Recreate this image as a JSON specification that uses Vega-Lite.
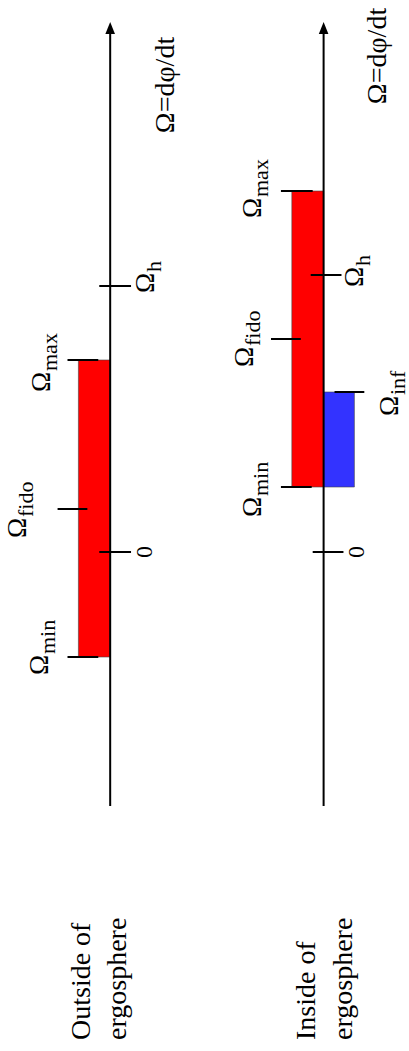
{
  "$schema": "https://vega.github.io/schema/vega-lite/v6.json",
  "width": 409,
  "height": 1051,
  "autosize": {"type": "fit", "contains": "padding"},
  "padding": 0,
  "background": "white",
  "config": {"view": {"stroke": null}, "font": "Liberation Serif"},
  "datasets": {
    "axes": [
      {"panel": "outside", "x": 11.1, "from": -25.4, "to": 52.2, "tip": 52.4},
      {"panel": "inside", "x": 32.6, "from": -25.4, "to": 52.2, "tip": 52.4}
    ],
    "bands": [
      {"panel": "outside", "kind": "allowed", "x0": 7.9, "x1": 11.1, "lo": -10.5, "hi": 19.2},
      {"panel": "inside", "kind": "allowed", "x0": 29.4, "x1": 32.6, "lo": 6.5, "hi": 36.1},
      {"panel": "inside", "kind": "infall", "x0": 32.6, "x1": 35.7, "lo": 6.5, "hi": 16.0}
    ],
    "ticks": [
      {"panel": "outside", "name": "max", "x0": 6.8, "x1": 9.9, "omega": 19.2},
      {"panel": "outside", "name": "h", "x0": 10.0, "x1": 13.2, "omega": 26.6},
      {"panel": "outside", "name": "fido", "x0": 5.8, "x1": 8.8, "omega": 4.3},
      {"panel": "outside", "name": "zero", "x0": 10.0, "x1": 13.2, "omega": 0},
      {"panel": "outside", "name": "min", "x0": 6.8, "x1": 9.9, "omega": -10.5},
      {"panel": "inside", "name": "max", "x0": 28.3, "x1": 31.5, "omega": 36.1},
      {"panel": "inside", "name": "h", "x0": 31.3, "x1": 34.4, "omega": 27.7},
      {"panel": "inside", "name": "fido", "x0": 27.3, "x1": 30.3, "omega": 21.3},
      {"panel": "inside", "name": "inf", "x0": 33.7, "x1": 36.7, "omega": 16.0},
      {"panel": "inside", "name": "min", "x0": 28.3, "x1": 31.4, "omega": 6.5},
      {"panel": "inside", "name": "zero", "x0": 31.5, "x1": 34.6, "omega": 0}
    ],
    "labels": [
      {"panel": "outside", "sym": "Ω", "sub": "max", "x": 5.0, "omega": 16.0},
      {"panel": "outside", "sym": "Ω", "sub": "h", "x": 15.5, "omega": 25.9},
      {"panel": "outside", "sym": "Ω", "sub": "fido", "x": 2.6, "omega": 1.4},
      {"panel": "outside", "sym": "Ω", "sub": "min", "x": 4.8, "omega": -12.3},
      {"panel": "inside", "sym": "Ω", "sub": "max", "x": 26.3, "omega": 33.4},
      {"panel": "inside", "sym": "Ω", "sub": "h", "x": 36.6, "omega": 26.5},
      {"panel": "inside", "sym": "Ω", "sub": "fido", "x": 25.5, "omega": 18.5},
      {"panel": "inside", "sym": "Ω", "sub": "inf", "x": 40.1, "omega": 13.6},
      {"panel": "inside", "sym": "Ω", "sub": "min", "x": 26.3, "omega": 3.5}
    ],
    "formulas": [
      {"panel": "outside", "text": "Ω=dφ/dt", "x": 16.7, "omega": 46.7},
      {"panel": "inside", "text": "Ω=dφ/dt", "x": 38.1, "omega": 49.6}
    ],
    "zeros": [
      {"panel": "outside", "text": "0", "x": 14.6, "omega": 0},
      {"panel": "inside", "text": "0", "x": 36.0, "omega": 0}
    ],
    "captions": [
      {"panel": "outside", "text": "Outside of", "x": 9.1, "omega": -48.8},
      {"panel": "outside", "text": "ergosphere", "x": 12.7, "omega": -48.8},
      {"panel": "inside", "text": "Inside of", "x": 31.7, "omega": -48.8},
      {"panel": "inside", "text": "ergosphere", "x": 35.5, "omega": -48.8}
    ]
  },
  "layer": [
    {
      "data": {"name": "bands"},
      "mark": {"type": "rect", "stroke": "#444444", "strokeWidth": 0.6},
      "encoding": {
        "x": {"field": "x0", "type": "quantitative", "scale": {"domain": [0, 40.9], "nice": false, "zero": false}, "axis": null},
        "x2": {"field": "x1"},
        "y": {"field": "lo", "type": "quantitative", "scale": {"domain": [-49.9, 55.2], "nice": false, "zero": false}, "axis": null},
        "y2": {"field": "hi"},
        "color": {"field": "kind", "type": "nominal", "scale": {"domain": ["allowed", "infall"], "range": ["#ff0000", "#3333ff"]}, "legend": null}
      }
    },
    {
      "data": {"name": "axes"},
      "mark": {"type": "rule", "color": "black", "strokeWidth": 2},
      "encoding": {
        "x": {"field": "x", "type": "quantitative"},
        "y": {"field": "from", "type": "quantitative"},
        "y2": {"field": "to"}
      }
    },
    {
      "data": {"name": "axes"},
      "mark": {"type": "point", "shape": "M0,-1L-0.8,1L0.8,1Z", "filled": true, "size": 144, "color": "black", "opacity": 1},
      "encoding": {
        "x": {"field": "x", "type": "quantitative"},
        "y": {"field": "tip", "type": "quantitative"}
      }
    },
    {
      "data": {"name": "ticks"},
      "mark": {"type": "rule", "color": "black", "strokeWidth": 2},
      "encoding": {
        "x": {"field": "x0", "type": "quantitative"},
        "x2": {"field": "x1"},
        "y": {"field": "omega", "type": "quantitative"}
      }
    },
    {
      "data": {"name": "labels"},
      "mark": {"type": "text", "font": "Liberation Serif", "angle": 270, "align": "left", "baseline": "alphabetic", "fontSize": 27, "color": "black"},
      "encoding": {
        "x": {"field": "x", "type": "quantitative"},
        "y": {"field": "omega", "type": "quantitative"},
        "text": {"field": "sym"}
      }
    },
    {
      "data": {"name": "labels"},
      "mark": {"type": "text", "font": "Liberation Serif", "angle": 270, "align": "left", "baseline": "alphabetic", "fontSize": 22, "dx": 21, "dy": 7, "color": "black"},
      "encoding": {
        "x": {"field": "x", "type": "quantitative"},
        "y": {"field": "omega", "type": "quantitative"},
        "text": {"field": "sub"}
      }
    },
    {
      "data": {"name": "formulas"},
      "mark": {"type": "text", "font": "Liberation Serif", "angle": 270, "align": "center", "baseline": "middle", "fontSize": 28, "color": "black"},
      "encoding": {
        "x": {"field": "x", "type": "quantitative"},
        "y": {"field": "omega", "type": "quantitative"},
        "text": {"field": "text"}
      }
    },
    {
      "data": {"name": "zeros"},
      "mark": {"type": "text", "font": "Liberation Serif", "angle": 270, "align": "center", "baseline": "middle", "fontSize": 24, "color": "black"},
      "encoding": {
        "x": {"field": "x", "type": "quantitative"},
        "y": {"field": "omega", "type": "quantitative"},
        "text": {"field": "text"}
      }
    },
    {
      "data": {"name": "captions"},
      "mark": {"type": "text", "font": "Liberation Serif", "angle": 270, "align": "left", "baseline": "alphabetic", "fontSize": 28, "color": "black"},
      "encoding": {
        "x": {"field": "x", "type": "quantitative"},
        "y": {"field": "omega", "type": "quantitative"},
        "text": {"field": "text"}
      }
    }
  ]
}
